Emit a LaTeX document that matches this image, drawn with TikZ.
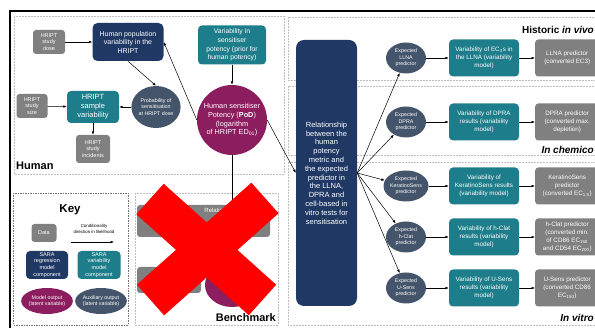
\documentclass[tikz,border=0pt]{standalone}
\usepackage{fontspec}
\setmainfont{Liberation Sans}
\usetikzlibrary{arrows.meta,shapes.geometric}
\definecolor{saranavy}{RGB}{32,56,100}
\definecolor{sarateal}{RGB}{30,125,138}
\definecolor{saragray}{RGB}{128,128,128}
\definecolor{saraslate}{RGB}{68,84,106}
\definecolor{saraplum}{RGB}{140,29,94}
\tikzset{
    panel/.style={draw=black!25,dash pattern=on 2pt off 1pt,line width=0.5pt},
    keypanel/.style={draw=black!55,dash pattern=on 1.5pt off 1pt,line width=0.6pt},
    databox/.style={fill=saragray,rounded corners=3pt,text=white,align=center,inner sep=1pt,font=\fontsize{5.5}{6.8}\selectfont},
    regbox/.style={fill=saranavy,rounded corners=5pt,text=white,align=center,inner sep=1pt,font=\fontsize{7}{8.5}\selectfont},
    varbox/.style={fill=sarateal,rounded corners=4pt,text=white,align=center,inner sep=1pt,font=\fontsize{6.3}{8}\selectfont},
    outnode/.style={fill=saraplum,ellipse,text=white,align=center,inner sep=0pt,font=\fontsize{7.3}{8.6}\selectfont},
    auxnode/.style={fill=saraslate,ellipse,text=white,align=center,inner sep=0pt,font=\fontsize{5.3}{6.5}\selectfont},
    paneltitle/.style={font=\fontsize{11}{12}\selectfont\bfseries,inner sep=0pt},
    testtitle/.style={font=\fontsize{10}{11}\selectfont\bfseries,inner sep=0pt,anchor=east},
    link/.style={-{Latex[length=3.5pt,width=2.6pt]},line width=0.5pt},
}

\begin{document}
\begin{tikzpicture}[x=1pt,y=-1pt]
            \useasboundingbox (0,0) rectangle (595,328);
            % frame and panels
            \draw[line width=1.2pt] (10,330) -- (10,11) -- (600,11);
            \draw[panel] (14,16) rectangle (284,174);
            \draw[keypanel] (13,193) rectangle (128,325);
            \draw[panel] (135,193) rectangle (278,325);
            \draw[panel] (288,17) rectangle (600,80);
            \draw[panel] (288,86) rectangle (600,155);
            \draw[panel] (288,162) rectangle (600,325);
            \node[paneltitle,anchor=west] (humantitle) at (16,166) {Human};
            \node[paneltitle,anchor=east] (benchtitle) at (276,318) {Benchmark};
            \node[testtitle] (vivotitle) at (594,30) {Historic \textit{in vivo}};
            \node[testtitle] (chemtitle) at (594,150) {\textit{In chemico}};
            \node[testtitle] (vitrotitle) at (594,318) {\textit{In vitro}};
            % human part
            \node[databox,minimum width=32pt,minimum height=24pt] (dose) at (49,42) {HRIPT\\study\\dose};
            \node[regbox,minimum width=71pt,minimum height=38pt] (humpop) at (128,42) {Human population\\variability in the\\HRIPT};
            \node[databox,minimum width=31pt,minimum height=24pt] (size) at (32,106) {HRIPT\\study\\size};
            \node[varbox,font=\fontsize{7.5}{8.8}\selectfont,minimum width=52pt,minimum height=32pt] (sample) at (93,107) {HRIPT\\sample\\variability};
            \node[auxnode,minimum width=44pt,minimum height=42pt] (prob) at (156,107) {Probability of\\sensitisation\\at HRIPT dose};
            \node[databox,minimum width=34pt,minimum height=28pt] (incid) at (93,149) {HRIPT\\study\\incidents};
            \node[varbox,font=\fontsize{6.8}{8.6}\selectfont,minimum width=68pt,minimum height=39pt] (prior) at (232,45) {Variability in\\sensitiser\\potency (prior for\\human potency)};
            \node[outnode,circle,minimum size=70pt] (pod) at (232,120) {Human sensitiser\\Potency (\textbf{PoD})\\(logarithm\\of HRIPT ED\textsubscript{01})};
            \draw[link] (dose) -- (humpop);
            \draw[link] (humpop.south) -- (prob.north);
            \draw[link] (prob) -- (sample);
            \draw[link] (size) -- (sample);
            \draw[link] (sample) -- (incid);
            \draw[link] (prior) -- (pod);
            \draw[link] (pod.west) -- (humpop.east);
            % benchmark part, struck out
            \node[databox,minimum width=133pt,minimum height=32pt] (relbench) at (203.5,221) {};
            \node[font=\fontsize{6}{7}\selectfont,text=white,inner sep=0pt] (relbenchtext) at (221,211) {Relationship};
            \node[databox,minimum width=64pt,minimum height=26pt] (bench) at (169,280) {};
            \node[outnode,minimum width=54pt,minimum height=44pt] (benchpod) at (232,285) {};
            \draw[line width=0.5pt] (pod) -- (pod |- relbench.north);
            \draw[red,line width=41pt] (150,199) -- (262.5,300);
            \draw[red,line width=41pt] (265,198) -- (150.5,300);
            % relationship and tests
            \node[regbox,rounded corners=8pt,font=\fontsize{7.5}{8.8}\selectfont,minimum width=61pt,minimum height=266pt] (rel) at (326.5,173) {Relationship\\between the\\human\\potency\\metric and\\the expected\\predictor in\\the LLNA,\\DPRA and\\cell-based in\\vitro tests for\\sensitisation};
            \draw[link] (pod.east) -- (rel.west);
            \node[auxnode,minimum width=40pt,minimum height=31pt] (exllna) at (406,58) {Expected\\LLNA\\predictor};
            \node[auxnode,minimum width=40pt,minimum height=31pt] (exdpra) at (406,122) {Expected\\DPRA\\predictor};
            \node[auxnode,minimum width=40pt,minimum height=31pt] (exkera) at (406,186) {Expected\\KeratinoSens\\predictor};
            \node[auxnode,minimum width=40pt,minimum height=31pt] (exhclat) at (406,237) {Expected\\h-Clat\\predictor};
            \node[auxnode,minimum width=40pt,minimum height=31pt] (exusens) at (406,288) {Expected\\U-Sens\\predictor};
            \node[varbox,minimum width=70pt,minimum height=37pt] (varllna) at (484,58) {Variability of EC\textsubscript{3}s in\\the LLNA (variability\\model)};
            \node[varbox,minimum width=70pt,minimum height=37pt] (vardpra) at (484,122) {Variability of DPRA\\results (variability\\model)};
            \node[varbox,minimum width=70pt,minimum height=37pt] (varkera) at (484,186) {Variability of\\KeratinoSens results\\(variability model)};
            \node[varbox,minimum width=70pt,minimum height=37pt] (varhclat) at (484,237) {Variability of h-Clat\\results (variability\\model)};
            \node[varbox,minimum width=70pt,minimum height=37pt] (varusens) at (484,288) {Variability of U-Sens\\results (variability\\model)};
            \node[databox,font=\fontsize{6.3}{7.8}\selectfont,minimum width=64pt,minimum height=37pt,anchor=west] (prllna) at (535,58) {LLNA predictor\\(converted EC3)};
            \node[databox,font=\fontsize{6.3}{7.8}\selectfont,minimum width=64pt,minimum height=37pt,anchor=west] (prdpra) at (535,122) {DPRA predictor\\(converted max.\\depletion)};
            \node[databox,font=\fontsize{6.3}{7.8}\selectfont,minimum width=64pt,minimum height=37pt,anchor=west] (prkera) at (535,186) {KeratinoSens\\predictor\\(converted EC\textsubscript{1.5})};
            \node[databox,font=\fontsize{6.3}{7.8}\selectfont,minimum width=64pt,minimum height=37pt,anchor=west] (prhclat) at (535,237) {h-Clat predictor\\(converted min.\\of CD86 EC\textsubscript{150}\\and CD54 EC\textsubscript{200})};
            \node[databox,font=\fontsize{6.3}{7.8}\selectfont,minimum width=64pt,minimum height=37pt,anchor=west] (prusens) at (535,288) {U-Sens predictor\\(converted CD86\\EC\textsubscript{150})};
            \draw[link] (rel.east) -- (exllna);
            \draw[link] (rel.east) -- (exdpra);
            \draw[link] (rel.east) -- (exkera);
            \draw[link] (rel.east) -- (exhclat);
            \draw[link] (rel.east) -- (exusens);
            \draw[link] (exllna) -- (varllna);
            \draw[link] (exdpra) -- (vardpra);
            \draw[link] (exkera) -- (varkera);
            \draw[link] (exhclat) -- (varhclat);
            \draw[link] (exusens) -- (varusens);
            \draw[link] (varllna) -- (prllna);
            \draw[link] (vardpra) -- (prdpra);
            \draw[link] (varkera) -- (prkera);
            \draw[link] (varhclat) -- (prhclat);
            \draw[link] (varusens) -- (prusens);
            % key
            \node[paneltitle,font=\fontsize{11.5}{12}\selectfont\bfseries] (keytitle) at (70,210) {Key};
            \node[databox,minimum width=25pt,minimum height=18pt] (keydata) at (44,233) {Data};
            \node[align=center,inner sep=0pt,font=\fontsize{4.4}{5.4}\selectfont] (keycond) at (94,229) {Conditionality\\direction in likelihood};
            \coordinate (keyfrom) at (71,242);
            \coordinate (keyto) at (114,242);
            \draw[link] (keyfrom) -- (keyto);
            \node[regbox,rounded corners=4pt,font=\fontsize{5.5}{6.8}\selectfont,minimum width=42pt,minimum height=28pt] (keyreg) at (47,265) {SARA\\regression\\model\\component};
            \node[varbox,font=\fontsize{5.5}{6.8}\selectfont,minimum width=43pt,minimum height=28pt] (keyvar) at (99,265) {SARA\\variability\\model\\component};
            \node[outnode,font=\fontsize{5.3}{6.5}\selectfont,minimum width=43pt,minimum height=26pt] (keyout) at (47,301) {Model output\\(latent variable)};
            \node[auxnode,minimum width=44pt,minimum height=26pt] (keyaux) at (101,301) {Auxiliary output\\(latent variable)};
        \end{tikzpicture}
\end{document}
